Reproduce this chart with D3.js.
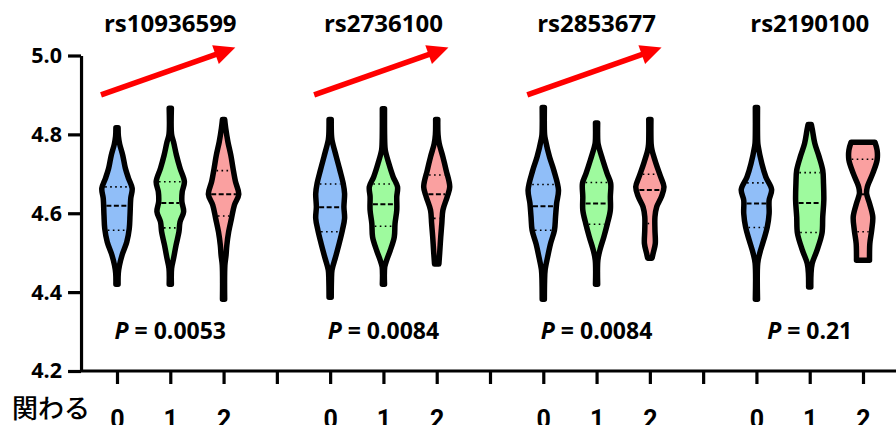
<!DOCTYPE html>
<html>
<head>
<meta charset="utf-8">
<script src="https://cdn.jsdelivr.net/npm/d3@7"></script>
<style>
  body { margin: 0; background: #fff; }
  svg { display: block; }
</style>
</head>
<body>
<svg id="chart" width="896" height="425"></svg>
<script>
// chart values
var snps = ["rs10936599", "rs2736100", "rs2853677", "rs2190100"]
var genotypes = ["0", "1", "2"]
var pValues = ["0.0053", "0.0084", "0.0084", "0.21"]
var trendUp = [true, true, true, false]
var yTicks = [4.2, 4.4, 4.6, 4.8, 5.0]
var fills = ["#90bef8", "#9efa9e", "#faa0a0"]

// violin outlines: [value, half width]
var violins = [
  [ // rs10936599
    [[4.817,1],[4.795,1.3],[4.775,2.5],[4.747,5.3],[4.714,7.7],[4.688,10.7],[4.663,14],[4.638,12.7],[4.595,12],[4.561,11.3],[4.527,9],[4.494,4.7],[4.468,2.3],[4.448,1.2],[4.420,1]],
    [[4.866,1],[4.800,1.2],[4.781,3],[4.747,5.7],[4.714,9],[4.680,13],[4.654,11],[4.629,10.7],[4.604,12.3],[4.578,9],[4.553,8],[4.519,5.3],[4.485,3],[4.460,1.2],[4.420,1]],
    [[4.838,1],[4.815,2],[4.781,4],[4.747,6.7],[4.714,8.7],[4.680,11],[4.648,14],[4.621,10],[4.587,7.3],[4.553,4.7],[4.519,3],[4.494,2.3],[4.468,1.2],[4.382,1]]
  ],
  [ // rs2736100
    [[4.838,1],[4.800,1.2],[4.786,1.7],[4.743,5.7],[4.709,9],[4.676,12],[4.650,13.3],[4.616,12.7],[4.587,13.3],[4.557,11.3],[4.523,8.3],[4.489,5],[4.456,1.7],[4.430,1.2],[4.387,1]],
    [[4.865,1],[4.780,1.2],[4.760,1.7],[4.726,5],[4.692,9],[4.667,13],[4.642,12.3],[4.608,12.3],[4.574,10.7],[4.540,10],[4.506,6.3],[4.481,3],[4.464,1.2],[4.420,1]],
    [[4.838,1],[4.800,1.2],[4.777,2.3],[4.743,5.7],[4.709,8.7],[4.667,12],[4.642,9.7],[4.608,5.7],[4.574,4.7],[4.540,3.7],[4.498,2.7],[4.471,2]]
  ],
  [ // rs2853677
    [[4.868,1],[4.800,1.2],[4.786,2],[4.743,5.7],[4.709,9.7],[4.659,14],[4.625,12.3],[4.591,11.3],[4.557,10.3],[4.523,6.7],[4.489,4],[4.456,1.7],[4.430,1.2],[4.382,1]],
    [[4.829,1],[4.780,1.2],[4.769,2],[4.735,5.7],[4.701,9.7],[4.676,13],[4.642,12.7],[4.608,12.7],[4.574,10],[4.540,6.7],[4.506,3],[4.481,1.2],[4.420,1]],
    [[4.838,1],[4.775,1.2],[4.760,2],[4.726,5.7],[4.692,10],[4.667,13],[4.642,10.7],[4.616,6.3],[4.591,4.7],[4.557,4.7],[4.523,5],[4.498,3],[4.486,2]]
  ],
  [ // rs2190100
    [[4.868,1],[4.780,1.2],[4.769,1.7],[4.726,5],[4.692,8.7],[4.660,14],[4.633,11.7],[4.599,11.7],[4.565,10],[4.532,6.7],[4.498,3],[4.473,1.2],[4.382,1]],
    [[4.825,1.5],[4.811,2.5],[4.777,4.7],[4.743,8.7],[4.709,12],[4.676,12.7],[4.633,13],[4.591,12],[4.549,11.3],[4.506,6.7],[4.473,2.3],[4.447,1.2],[4.413,1]],
    [[4.780,11],[4.760,13],[4.735,13],[4.701,9],[4.667,4],[4.650,3.3],[4.625,6],[4.591,9],[4.557,8],[4.523,6.3],[4.489,6],[4.481,6]]
  ]
]

// [q1, median, q3]
var quartiles = [
  [[4.557,4.619,4.667],[4.563,4.626,4.680],[4.593,4.648,4.708]],
  [[4.553,4.615,4.674],[4.567,4.623,4.674],[4.587,4.648,4.697]],
  [[4.557,4.618,4.673],[4.572,4.625,4.678],[4.574,4.659,4.699]],
  [[4.564,4.625,4.677],[4.551,4.626,4.703],[4.553,4.648,4.737]]
]

var svg = d3.select("#chart")
var width = 896
var labelFont = "'Open Sans', Lato, sans-serif"

// slot 0,1,2 = genotypes, slot 3 = gap between snps
var xScale = d3.scaleLinear().domain([0, 14]).range([117, 863])
var yScale = d3.scaleLinear().domain([4.2, 5.0]).range([371, 55.5])
var wScale = d3.scaleLinear().domain([0, 14]).range([0, xScale(0.285) - xScale(0)])

function slotOf(g, k) { return g * 4 + k }

// y axis
var yAxis = d3.axisLeft(yScale).tickValues(yTicks).tickFormat(d3.format(".1f"))
    .tickSize(13).tickSizeOuter(0).tickPadding(6)
var yg = svg.append("g").attr("transform", "translate(" + xScale(-0.675) + ",0)").call(yAxis)
yg.select(".domain").attr("stroke-width", 3.2)
yg.selectAll(".tick line").attr("stroke-width", 3.2)
yg.selectAll(".tick text")
    .attr("font-family", labelFont)
    .attr("font-weight", "bold").attr("font-size", 21.5).attr("fill", "#000")

// x axis
var xAxis = d3.axisBottom(xScale).tickValues(d3.range(0, 16))
    .tickFormat(i => i % 4 == 3 ? "" : genotypes[i % 4])
    .tickSize(13).tickSizeOuter(0).tickPadding(26)
var xg = svg.append("g").attr("transform", "translate(0," + yScale(4.2) + ")").call(xAxis)
xg.select(".domain").attr("d", "M" + xScale(-0.675) + ",0H" + (width + 10)).attr("stroke-width", 3.2)
xg.selectAll(".tick line").attr("stroke-width", 3.2)
xg.selectAll(".tick text")
    .attr("font-family", "Roboto, sans-serif")
    .attr("font-weight", "bold").attr("font-size", 25).attr("fill", "#000")

svg.append("text")
    .attr("x", 12).attr("y", 418)
    .attr("font-family", "'Noto Sans CJK JP', sans-serif")
    .attr("font-weight", 500).attr("font-size", 26)
    .text("関わる")

// interpolate half width of a profile at a value
function widthAt(profile, v) {
  for (var i = 0; i < profile.length - 1; i++) {
    var a = profile[i], b = profile[i + 1]
    if (v <= a[0] && v >= b[0]) {
      var t = (a[0] - v) / (a[0] - b[0])
      return a[1] + t * (b[1] - a[1])
    }
  }
  return 0
}

snps.forEach(function(name, g) {
  var cxMid = xScale(slotOf(g, 1))

  violins[g].forEach(function(profile, k) {
    var cx = xScale(slotOf(g, k))
    var area = d3.area()
        .y(d => yScale(d[0]))
        .x0(d => cx - wScale(d[1]))
        .x1(d => cx + wScale(d[1]))
        .curve(d3.curveCatmullRom)
    svg.append("path")
        .datum(profile)
        .attr("d", area)
        .attr("fill", fills[k])
        .attr("stroke", "#000")
        .attr("stroke-width", 5.5)
        .attr("stroke-linejoin", "round")

    quartiles[g][k].forEach(function(q, j) {
      var w = wScale(widthAt(profile, q)) - 2.8
      if (w <= 0) return
      svg.append("line")
          .attr("x1", cx - w).attr("x2", cx + w)
          .attr("y1", yScale(q)).attr("y2", yScale(q))
          .attr("stroke", "#000")
          .attr("stroke-width", j == 1 ? 2 : 1.6)
          .attr("stroke-dasharray", j == 1 ? "5,2.5" : "1.6,3.4")
    })
  })

  svg.append("text")
      .attr("x", cxMid).attr("y", 32)
      .attr("text-anchor", "middle")
      .attr("font-family", labelFont)
      .attr("font-weight", "bold").attr("font-size", 24)
      .text(name)

  var pt = svg.append("text")
      .attr("x", cxMid).attr("y", 339)
      .attr("text-anchor", "middle")
      .attr("font-family", labelFont)
      .attr("font-weight", "bold").attr("font-size", 23)
  pt.append("tspan").attr("font-style", "italic").text("P")
  pt.append("tspan").text(" = " + pValues[g])

  if (trendUp[g]) {
    var x0 = xScale(slotOf(g, 1) - 1.3), y0 = yScale(4.9)
    var x1 = xScale(slotOf(g, 1) + 1.22), y1 = yScale(5.02)
    var dx = x1 - x0, dy = y1 - y0, len = Math.sqrt(dx * dx + dy * dy)
    var ux = dx / len, uy = dy / len
    var headL = 21, headW = 10
    var bx = x1 - ux * headL, by = y1 - uy * headL
    svg.append("line")
        .attr("x1", x0).attr("y1", y0)
        .attr("x2", bx + ux * 2).attr("y2", by + uy * 2)
        .attr("stroke", "#ff0000").attr("stroke-width", 5.5)
    svg.append("path")
        .attr("d", "M" + x1 + "," + y1 +
          "L" + (bx - uy * headW) + "," + (by + ux * headW) +
          "L" + (bx + uy * headW) + "," + (by - ux * headW) + "Z")
        .attr("fill", "#ff0000")
  }
})
</script>
</body>
</html>
